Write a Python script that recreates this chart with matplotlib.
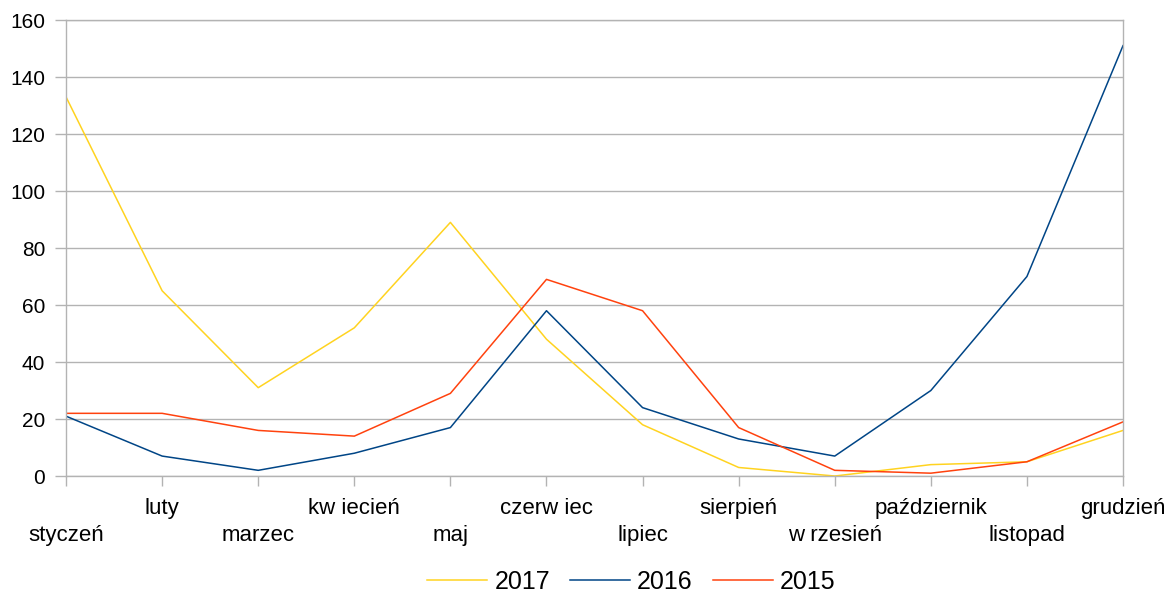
import matplotlib
matplotlib.use("Agg")
import matplotlib.pyplot as plt

plt.rcParams['font.family'] = ['Liberation Sans', 'DejaVu Sans']

months = ["styczeń", "luty", "marzec", "kw iecień", "maj", "czerw iec",
          "lipiec", "sierpień", "w rzesień", "październik", "listopad", "grudzień"]
y2017 = [133, 65, 31, 52, 89, 48, 18, 3, 0, 4, 5, 16]
y2016 = [21, 7, 2, 8, 17, 58, 24, 13, 7, 30, 70, 151]
y2015 = [22, 22, 16, 14, 29, 69, 58, 17, 2, 1, 5, 19]
yticks = [0, 20, 40, 60, 80, 100, 120, 140, 160]

grid_c = "#b3b3b3"

fig = plt.figure(figsize=(11.67, 5.96), dpi=100)
ax = fig.add_axes([0.0566, 0.2013, 0.9057, 0.7651])

x = range(len(months))
ax.plot(x, y2017, color="#ffd320", lw=1.1, label="2017")
ax.plot(x, y2016, color="#004586", lw=1.1, label="2016")
ax.plot(x, y2015, color="#ff420e", lw=1.1, label="2015")

ax.set_xlim(0, len(months) - 1)
ax.set_ylim(0, 160)
ax.set_yticks(yticks)
ax.yaxis.grid(True, color=grid_c, lw=1)
ax.set_axisbelow(True)
for s in ax.spines.values():
    s.set_color(grid_c)
    s.set_linewidth(1)

ax.set_xticks(list(x))
ax.set_xticklabels(months, fontsize=16)
ax.tick_params(axis="x", length=7.5, color=grid_c, width=1)
ax.tick_params(axis="y", length=8, color=grid_c, width=1, labelsize=15, pad=7)
for i, t in enumerate(ax.xaxis.get_major_ticks()):
    t.set_pad(28 if i % 2 == 0 else 8)

fig.legend(loc="center", bbox_to_anchor=(0.541, 0.024), ncol=3, frameon=False,
           fontsize=18, handlelength=2.4, handletextpad=0.28, columnspacing=0.8,
           borderpad=0.1)

fig.savefig("out.png", dpi=100)
